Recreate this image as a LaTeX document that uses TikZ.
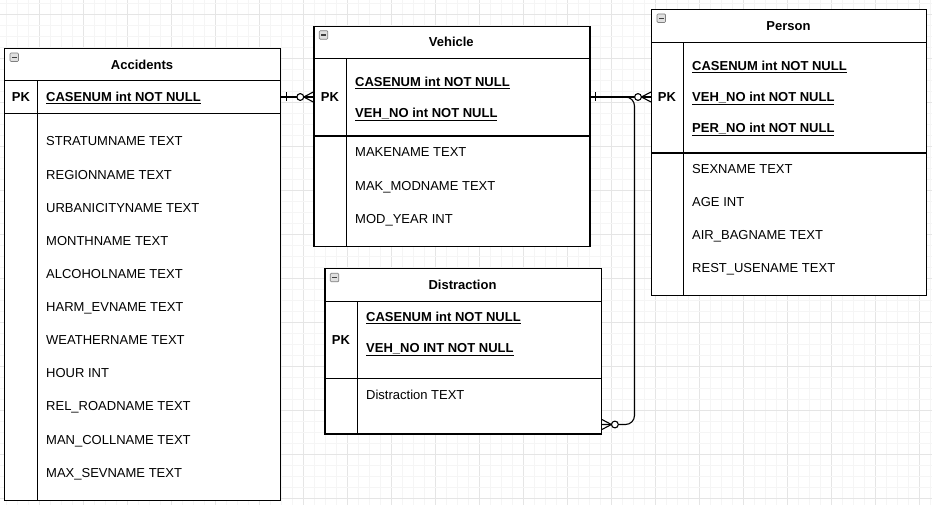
\documentclass[tikz,border=0pt]{standalone}
\usepackage{fontspec}
\setmainfont{Liberation Sans}
\begin{document}
\fontsize{13}{15}\selectfont
\begin{tikzpicture}[x=1pt,y=-1pt,
        tbl/.style={draw, line width=1.2pt, anchor=north west, inner sep=0pt},
        sepline/.style={line width=1.2pt},
        ttl/.style={font=\bfseries, text height=9.3pt, text depth=0pt, inner sep=0pt},
        pklbl/.style={font=\bfseries, text height=9.3pt, text depth=0pt, inner sep=0pt},
        fld/.style={anchor=west, text height=9.3pt, text depth=0pt, inner sep=0pt},
        keyfld/.style={fld, font=\bfseries},
        rel/.style={line width=1.1pt},
        gridminor/.style={draw=black!4, line width=0.8pt},
        gridmajor/.style={draw=black!10, line width=0.8pt},
        crowfoot/.pic={\draw[rel] (0,-5) -- (-9.5,0) -- (0,5);
                       \draw[rel, fill=white] (-13,0) circle[radius=3.4pt];},
        onetick/.pic={\draw[rel] (5,-4.5) -- (5,4.5);},
        minbox/.pic={\draw[draw=black!50, fill=black!12, rounded corners=1pt, line width=0.7pt] (0,0) rectangle (8.5,8.5);
                     \draw[draw=black!75, line width=1.2pt] (2,4.25) -- (6.5,4.25);}
    ]
    \useasboundingbox (0,0) rectangle (932,505);
    % background grid
    \foreach \k in {0,...,84} {
        \pgfmathtruncatemacro\m{mod(\k,4)}
        \ifnum\m=3 \draw[gridmajor] ({6.7+11*\k},0) -- ({6.7+11*\k},505);
        \else \draw[gridminor] ({6.7+11*\k},0) -- ({6.7+11*\k},505); \fi
    }
    \foreach \k in {0,...,45} {
        \pgfmathtruncatemacro\m{mod(\k,4)}
        \ifnum\m=1 \draw[gridmajor] (0,{3.7+11*\k}) -- (932,{3.7+11*\k});
        \else \draw[gridminor] (0,{3.7+11*\k}) -- (932,{3.7+11*\k}); \fi
    }

    % Accidents
    \node[tbl, fill=white, minimum width=276pt, minimum height=452pt] (acc) at (4,48) {};
    \draw[sepline] (4,80.7) -- (280,80.7);
    \draw[sepline] (4,113.3) -- (280,113.3);
    \draw[sepline] (37.7,80.7) -- (37.7,500);
    \pic at ([shift={(6,5)}]acc.north west) {minbox};
    \node[ttl] (acctitle) at (142,64.4) {Accidents};
    \node[pklbl] (accpk) at (21,97) {PK};
    \node[keyfld] (acckey) at (46,97) {\underline{CASENUM int NOT NULL}};
    \node[fld] (acc1) at (46,141) {STRATUMNAME TEXT};
    \node[fld] (acc2) at (46,175) {REGIONNAME TEXT};
    \node[fld] (acc3) at (46,208) {URBANICITYNAME TEXT};
    \node[fld] (acc4) at (46,241) {MONTHNAME TEXT};
    \node[fld] (acc5) at (46,274) {ALCOHOLNAME TEXT};
    \node[fld] (acc6) at (46,307) {HARM\_EVNAME TEXT};
    \node[fld] (acc7) at (46,340) {WEATHERNAME TEXT};
    \node[fld] (acc8) at (46,373) {HOUR INT};
    \node[fld] (acc9) at (46,406) {REL\_ROADNAME TEXT};
    \node[fld] (acc10) at (46,440) {MAN\_COLLNAME TEXT};
    \node[fld] (acc11) at (46,473) {MAX\_SEVNAME TEXT};

    % Vehicle
    \node[tbl, fill=white, minimum width=276pt, minimum height=220.3pt] (veh) at (313.3,25.7) {};
    \draw[sepline] (313.3,58.3) -- (589.3,58.3);
    \draw[sepline] (313.3,136) -- (589.3,136);
    \draw[sepline] (346.7,58.3) -- (346.7,246);
    \pic at ([shift={(6,5)}]veh.north west) {minbox};
    \node[ttl] (vehtitle) at (451.3,42) {Vehicle};
    \node[pklbl] (vehpk) at (330,97) {PK};
    \node[keyfld] (vehkey1) at (355,82) {\underline{CASENUM int NOT NULL}};
    \node[keyfld] (vehkey2) at (355,113) {\underline{VEH\_NO int NOT NULL}};
    \node[fld] (veh1) at (355,152) {MAKENAME TEXT};
    \node[fld] (veh2) at (355,186) {MAK\_MODNAME TEXT};
    \node[fld] (veh3) at (355,219) {MOD\_YEAR INT};

    % Person
    \node[tbl, fill=white, minimum width=275pt, minimum height=286pt] (per) at (651,9) {};
    \draw[sepline] (651,42.3) -- (926,42.3);
    \draw[sepline] (651,153) -- (926,153);
    \draw[sepline] (683.3,42.3) -- (683.3,295);
    \pic at ([shift={(6,5)}]per.north west) {minbox};
    \node[ttl] (pertitle) at (788.5,25.7) {Person};
    \node[pklbl] (perpk) at (667,97) {PK};
    \node[keyfld] (perkey1) at (692,66) {\underline{CASENUM int NOT NULL}};
    \node[keyfld] (perkey2) at (692,97) {\underline{VEH\_NO int NOT NULL}};
    \node[keyfld] (perkey3) at (692,128) {\underline{PER\_NO int NOT NULL}};
    \node[fld] (per1) at (692,169) {SEXNAME TEXT};
    \node[fld] (per2) at (692,202) {AGE INT};
    \node[fld] (per3) at (692,235) {AIR\_BAGNAME TEXT};
    \node[fld] (per4) at (692,268) {REST\_USENAME TEXT};

    % Distraction
    \node[tbl, fill=white, minimum width=276.4pt, minimum height=165pt] (dis) at (324.3,268.3) {};
    \draw[sepline] (324.3,301.7) -- (600.7,301.7);
    \draw[sepline] (324.3,378.3) -- (600.7,378.3);
    \draw[sepline] (357.7,301.7) -- (357.7,433.3);
    \pic at ([shift={(6,5)}]dis.north west) {minbox};
    \node[ttl] (distitle) at (462.5,285) {Distraction};
    \node[pklbl] (dispk) at (341,340) {PK};
    \node[keyfld] (diskey1) at (366,317) {\underline{CASENUM int NOT NULL}};
    \node[keyfld] (diskey2) at (366,348) {\underline{VEH\_NO INT NOT NULL}};
    \node[fld] (dis1) at (366,395) {Distraction TEXT};

    % relations
    \coordinate (turn) at ([xshift=44pt]veh.east |- vehpk);
    \coordinate (disend) at ([yshift=10pt]dis.south east);
    \draw[rel] (acc.east |- accpk) -- (veh.west |- vehpk);
    \draw[rel] (veh.east |- vehpk) -- (per.west |- perpk);
    \draw[rel, rounded corners=9pt] (veh.east |- vehpk) -- (turn) -- (turn |- disend) -- (disend);
    \pic at (acc.east |- accpk) {onetick};
    \pic at (veh.west |- vehpk) {crowfoot};
    \pic at (veh.east |- vehpk) {onetick};
    \pic at (per.west |- perpk) {crowfoot};
    \pic[xscale=-1] at (disend) {crowfoot};
\end{tikzpicture}
\end{document}
